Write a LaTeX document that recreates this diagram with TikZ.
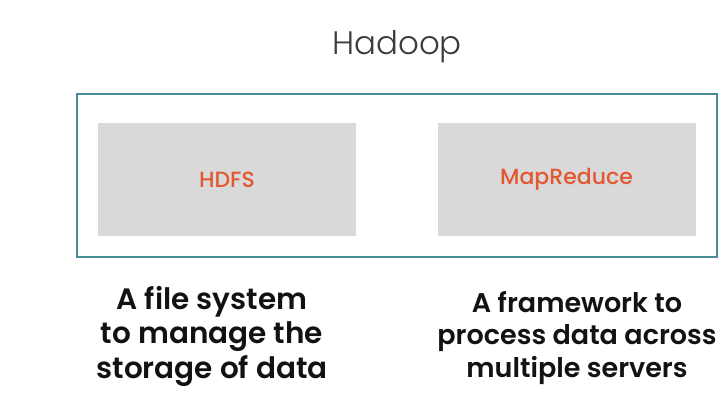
\documentclass[tikz,border=0pt]{standalone}
\usepackage{fontspec}
\setmainfont{Poppins}
\newfontfamily\lightfont{Poppins Light}
\newfontfamily\medfont{Poppins Medium}
\newfontfamily\semifont{Poppins SemiBold}
\definecolor{teal}{RGB}{72,140,152}
\definecolor{boxgray}{RGB}{217,217,217}
\definecolor{hdorange}{RGB}{226,88,50}
\definecolor{titlegray}{RGB}{60,60,60}
\definecolor{textdark}{RGB}{18,18,18}
\begin{document}
\begin{tikzpicture}[x=1pt,y=-1pt,
  comp/.style={draw=none,fill=boxgray,minimum width=258pt,minimum height=113pt,inner sep=0pt,
    text=hdorange,font=\medfont\fontsize{22}{26}\selectfont},
  desc/.style={align=center,anchor=base,text=textdark,inner sep=0pt}]
\useasboundingbox (0,0) rectangle (727,408);
\node[anchor=base,text=titlegray,font=\lightfont\fontsize{32.5}{38}\selectfont,inner sep=0pt] (title) at (397,54) {Hadoop};
\draw[teal,line width=1.8pt] (77,94) rectangle (717,257);
\node[comp] (hdfs) at (227,179.5) {HDFS};
\node[comp] (mr) at (566.5,179.5) {MapReduce};
\node[desc,font=\semifont\fontsize{29.5}{34.5}\selectfont] (d1) at (212,378) {A file system\\to manage the\\storage of data};
\node[desc,font=\semifont\fontsize{27}{32.5}\selectfont] (d2) at (577,377) {A framework to\\process data across\\multiple servers};
\end{tikzpicture}
\end{document}
